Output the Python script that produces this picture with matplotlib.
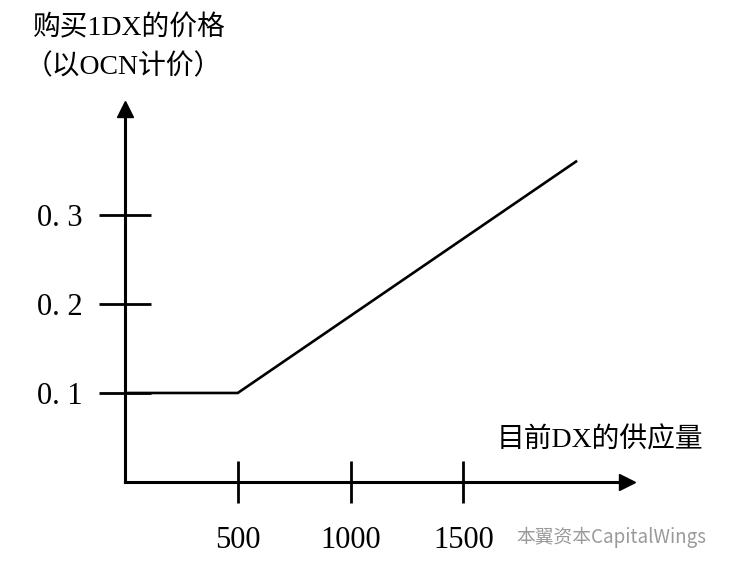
import matplotlib.pyplot as plt

plt.rcParams['font.family'] = ['Liberation Serif', 'Noto Sans CJK SC', 'DejaVu Sans']

# supply of DX and price of 1 DX in OCN
supply = [0, 500, 2000]
price = [0.1, 0.1, 0.36]

xticks = [500, 1000, 1500]
xticklabels = ['500', '1000', '1500']
yticks = [0.1, 0.2, 0.3]
yticklabels = ['0. 1', '0. 2', '0. 3']

fig = plt.figure(figsize=(7.29, 5.69), dpi=100)
ax = fig.add_axes([125 / 729, 87 / 569, 502 / 729, 373 / 569])

ax.plot(supply, price, color='black', lw=1.9, solid_joinstyle='miter')

ax.set_xlim(0, 2226)
ax.set_ylim(0, 0.419)
ax.spines['top'].set_visible(False)
ax.spines['right'].set_visible(False)
ax.spines['left'].set_linewidth(2.2)
ax.spines['bottom'].set_linewidth(2.2)

ax.set_xticks(xticks)
ax.set_xticklabels(xticklabels, fontsize=22)
ax.set_yticks(yticks)
ax.set_yticklabels(yticklabels, fontsize=22)
ax.tick_params(axis='x', direction='inout', length=30, width=2, pad=17)
ax.tick_params(axis='y', direction='inout', length=37, width=2, pad=12)

# arrow heads on the axes
ax.plot(1, 0, '>k', ms=11, transform=ax.get_yaxis_transform(), clip_on=False)
ax.plot(0, 1, '^k', ms=11, transform=ax.get_xaxis_transform(), clip_on=False)

fig.text(129 / 729, 1 - 28 / 569, '购买1DX的价格', fontsize=20, ha='center', va='center')
fig.text(123 / 729, 1 - 67 / 569, '（以OCN计价）', fontsize=20, ha='center', va='center')
fig.text(703 / 729, 1 - 440 / 569, '目前DX的供应量', fontsize=20, ha='right', va='center')

# watermark
fig.text(706 / 729, 1 - 537 / 569, '本翼资本CapitalWings', fontsize=13.5,
         family=['Noto Sans CJK SC', 'DejaVu Sans'], color='#9a9a9a',
         ha='right', va='center')

fig.savefig('out.png', dpi=100)
